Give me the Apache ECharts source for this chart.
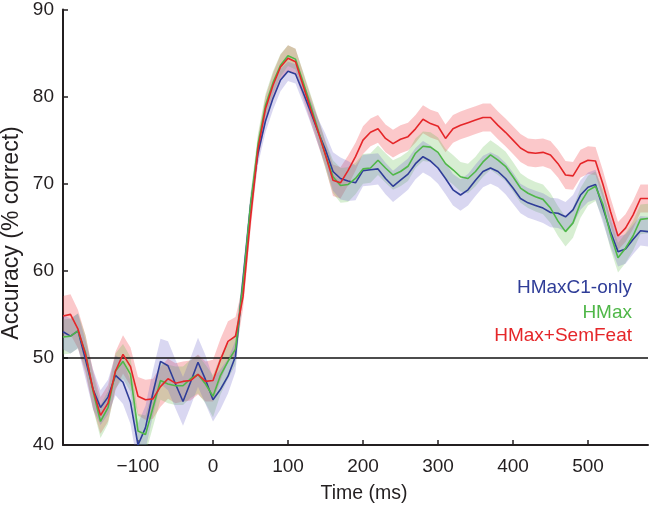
<!DOCTYPE html>
<html><head><meta charset="utf-8">
<script src="https://cdn.jsdelivr.net/npm/echarts@6/dist/echarts.min.js"></script>
<style>html,body{margin:0;padding:0;background:#fff}#c{width:650px;height:508px}</style>
</head><body><div id="c"></div>
<script>
// time points (ms)
const timeMs = [-200,-190,-180,-170,-160,-150,-140,-130,-120,-110,-100,-90,-80,-70,-60,-50,-40,-30,-20,-10,
  0,10,20,30,40,50,60,70,80,90,100,110,120,130,140,150,160,170,180,190,
  200,210,220,230,240,250,260,270,280,290,300,310,320,330,340,350,360,370,380,390,
  400,410,420,430,440,450,460,470,480,490,500,510,520,530,540,550,560,570,580];

const seriesNames = ['HMaxC1-only', 'HMax', 'HMax+SemFeat'];

const hmaxC1 = [53.0,52.5,53.1,49.8,46.4,44.3,45.5,48.0,47.2,44.9,40.0,42.0,46.0,49.6,49.1,47.0,45.0,47.2,49.5,47.5,
  45.2,46.4,47.9,50.2,59.0,67.5,73.5,77.2,79.8,81.9,82.9,82.6,80.5,78.3,76.0,73.9,71.4,70.6,70.3,70.1,
  71.5,71.6,71.7,70.6,69.7,70.4,71.1,72.3,73.1,72.6,71.8,70.6,69.3,68.7,69.3,70.4,71.4,71.8,71.4,70.6,
  69.5,68.3,67.8,67.5,67.2,66.7,66.6,66.2,67.0,68.7,69.6,69.9,67.2,64.5,62.2,62.5,63.6,64.6,64.5];

const hmax = [52.4,52.5,53.1,50.6,46.2,42.7,44.3,48.5,49.6,48.1,41.6,41.2,44.3,47.4,47.0,46.8,46.8,47.6,48.1,47.0,
  45.6,48.0,49.6,51.0,58.5,67.5,74.5,79.0,81.6,83.6,84.7,84.3,81.7,79.0,76.2,73.3,70.8,69.8,69.9,70.6,
  71.7,71.8,72.7,71.8,71.0,71.4,72.0,73.5,74.3,74.2,73.6,72.3,71.6,70.8,70.6,71.4,72.5,73.3,72.7,72.0,
  70.8,69.5,68.9,68.5,68.2,67.2,65.7,64.5,65.5,67.8,69.2,69.7,67.6,64.2,61.5,62.6,64.0,65.9,66.0];

const hmaxSem = [54.8,55.0,53.3,50.4,46.4,43.4,44.8,48.5,50.4,49.0,45.6,45.2,45.3,46.7,47.6,47.1,47.3,47.4,48.1,47.3,
  47.4,49.8,51.9,52.5,57.0,66.0,74.0,78.6,81.3,83.4,84.4,84.0,81.3,78.6,76.0,73.3,70.4,70.1,71.5,73.1,
  75.0,75.9,76.3,75.2,74.6,75.1,75.4,76.3,77.4,76.9,76.6,75.2,76.3,76.7,77.0,77.3,77.6,77.6,76.7,75.9,
  75.0,74.1,73.6,73.5,73.6,73.3,72.3,71.0,70.9,72.3,72.7,72.6,69.9,66.8,64.0,64.9,66.4,68.3,68.3];

// half-widths of shaded error bands
const errC1 = [2.0,2.0,2.0,2.2, 2.3,2.0,2.0,2.3,2.5,2.5,2.5, 2.5,2.6,2.6,2.8,2.8,2.8,2.8,2.8,2.8,
  2.5,2.3,2.0,1.8, 1.3,1.3,1.3,1.3,1.3,1.3, 1.1,1.1,1.2,1.3,1.5,1.8, 2.2,2.4,2.3,2.0,
  1.8,1.8,1.8,1.8,1.8,1.8,1.8,1.8,1.8,1.8,1.8,1.8,1.8,1.8,1.8,1.8,1.8,1.8,1.8,1.8,1.8,
  1.7,1.7,1.7,1.7,1.7,1.7,1.7,1.7,1.7,1.7,1.7,1.7,1.7,1.7,1.7,1.7,1.7,1.7];
const errHmax = [2.0,2.0,2.0,2.0, 2.0,1.9,1.9,2.0,2.0,2.0,2.0, 2.2,2.2,2.2,2.2,2.2,2.2,2.2,2.2,2.2,
  2.4,2.2,2.0,1.8, 1.3,1.3,1.3,1.3,1.3,1.3, 1.2,1.2,1.2,1.3,1.4,1.6, 1.9,2.0,2.0,1.8,
  1.7,1.7,1.7,1.7,1.7,1.7,1.7,1.7,1.7,1.7,1.7,1.7,1.7,1.7,1.7,1.7,1.7,1.7,1.7,1.7,1.7,
  1.7,1.7,1.7,1.7,1.7,1.7,1.7,1.7,1.7,1.7,1.7,1.7,1.7,1.7,1.7,1.7,1.7,1.7];
const errSem = [2.3,2.3,2.2,2.2, 2.2,2.1,2.1,2.2,2.2,2.2,2.2, 2.3,2.3,2.3,2.3,2.3,2.3,2.3,2.3,2.3,
  2.4,2.4,2.3,2.2, 1.4,1.4,1.4,1.4,1.4,1.4, 1.5,1.5,1.5,1.5,1.5,1.5, 1.8,1.8,1.7,1.6,
  1.6,1.6,1.6,1.6,1.6,1.6,1.6,1.6,1.6,1.6,1.6,1.6,1.6,1.6,1.6,1.6,1.6,1.6,1.6,1.6,1.6,
  1.6,1.6,1.6,1.6,1.6,1.6,1.6,1.6,1.6,1.6,1.6,1.6,1.6,1.6,1.6,1.6,1.6,1.6];

const xTicks = [-100,0,100,200,300,400,500];
const yTicks = [40,50,60,70,80,90];
const chanceLevel = 50;

const FONT = '"Liberation Sans", Arial, Helvetica, sans-serif';
const lineColors = ['#2f3d98', '#4fb748', '#e52629'];
const bandColors = ['rgba(110,100,200,0.26)', 'rgba(100,190,80,0.26)', 'rgba(240,50,60,0.27)'];

function bandSeries(idx, vals, err) {
  return {
    type: 'custom', name: seriesNames[idx] + ' band', silent: true, z: 1,
    data: [[timeMs[0], vals[0]]],
    renderItem: function (params, api) {
      const upper = timeMs.map((t, i) => api.coord([t, vals[i] + err[i]]));
      const lower = timeMs.map((t, i) => api.coord([t, vals[i] - err[i]])).reverse();
      const cs = params.coordSys;
      return {
        type: 'polygon',
        shape: { points: upper.concat(lower) },
        style: { fill: bandColors[idx], stroke: null },
        clipPath: { type: 'rect', shape: { x: cs.x, y: cs.y, width: cs.width, height: cs.height } }
      };
    }
  };
}
function lineSeries(idx, vals) {
  return { type: 'line', name: seriesNames[idx], symbol: 'none', z: 5,
    lineStyle: { color: lineColors[idx], width: 1.6 },
    data: timeMs.map((t, i) => [t, vals[i]]) };
}

const chart = echarts.init(document.getElementById('c'), null, { renderer: 'canvas' });
chart.setOption({
  animation: false,
  backgroundColor: '#fff',
  grid: { left: 63, right: 2, top: 7, bottom: 63 },
  xAxis: {
    type: 'value', min: -200, max: 580, interval: 100,
    axisLine: { onZero: false, lineStyle: { color: '#231f20', width: 2 } },
    axisTick: { inside: true, length: 5, lineStyle: { color: '#231f20', width: 1.5 }, customValues: xTicks },
    axisLabel: { customValues: xTicks, margin: 12, fontFamily: FONT, fontSize: 19, color: '#231f20',
      formatter: v => (v < 0 ? '\u2212' + Math.abs(v) : String(v)) },
    splitLine: { show: false }
  },
  yAxis: {
    type: 'value', min: 40, max: 90, interval: 10,
    axisLine: { show: true, onZero: false, lineStyle: { color: '#231f20', width: 2 } },
    axisTick: { show: true, inside: true, length: 5, lineStyle: { color: '#231f20', width: 1.5 }, customValues: yTicks },
    axisLabel: { customValues: yTicks, margin: 9, fontFamily: FONT, fontSize: 19, color: '#231f20' },
    splitLine: { show: false }
  },
  series: [
    bandSeries(2, hmaxSem, errSem),
    bandSeries(1, hmax, errHmax),
    bandSeries(0, hmaxC1, errC1),
    { type: 'line', name: 'chance', data: [], symbol: 'none', z: 3,
      markLine: { silent: true, symbol: 'none', label: { show: false },
        lineStyle: { color: '#111', width: 1.5, type: 'solid' },
        data: [{ yAxis: chanceLevel }] } },
    lineSeries(0, hmaxC1),
    lineSeries(1, hmax),
    lineSeries(2, hmaxSem)
  ],
  graphic: [
    { type: 'text', x: 12, y: 233, rotation: Math.PI / 2,
      style: { text: 'Accuracy (% correct)', font: '23px ' + FONT, fill: '#231f20', textAlign: 'center', textVerticalAlign: 'middle' } },
    { type: 'text', x: 364, y: 494,
      style: { text: 'Time (ms)', font: '19.5px ' + FONT, fill: '#231f20', textAlign: 'center', textVerticalAlign: 'middle' } },
    { type: 'text', x: 632, y: 288,
      style: { text: seriesNames[0], font: '19px ' + FONT, fill: lineColors[0], textAlign: 'right', textVerticalAlign: 'middle' } },
    { type: 'text', x: 632, y: 312.5,
      style: { text: seriesNames[1], font: '19px ' + FONT, fill: lineColors[1], textAlign: 'right', textVerticalAlign: 'middle' } },
    { type: 'text', x: 632, y: 336,
      style: { text: seriesNames[2], font: '19px ' + FONT, fill: lineColors[2], textAlign: 'right', textVerticalAlign: 'middle' } }
  ]
});
</script>
</body></html>
